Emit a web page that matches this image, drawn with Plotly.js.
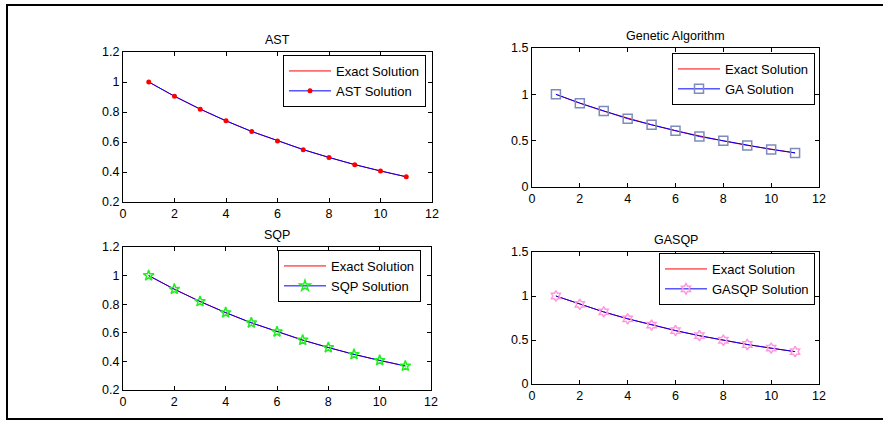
<!DOCTYPE html>
<html><head><meta charset="utf-8">
<script src="https://cdn.plot.ly/plotly-3.0.1.min.js"></script>
<style>html,body{margin:0;padding:0;background:#fff;}#chart{width:883px;height:421px;}</style>
</head><body><div id="chart"></div>
<script>
// ---- data ----
const xVals = [1, 2, 3, 4, 5, 6, 7, 8, 9, 10, 11];
const exactSolution = [1.0, 0.905, 0.819, 0.741, 0.670, 0.607, 0.549, 0.497, 0.449, 0.407, 0.368];
const astSolution   = [1.0, 0.905, 0.819, 0.741, 0.670, 0.607, 0.549, 0.497, 0.449, 0.407, 0.368];
const gaSolution    = [1.0, 0.905, 0.821, 0.737, 0.672, 0.607, 0.545, 0.499, 0.449, 0.406, 0.368];
const sqpSolution   = [1.0, 0.905, 0.819, 0.741, 0.670, 0.607, 0.549, 0.497, 0.449, 0.407, 0.368];
const gasqpSolution = [1.0, 0.905, 0.819, 0.741, 0.670, 0.607, 0.549, 0.497, 0.449, 0.407, 0.368];
const titles = ["AST", "Genetic Algorithm", "SQP", "GASQP"];
const solutionNames = ["AST Solution", "GA Solution", "SQP Solution", "GASQP Solution"];
const xTicks = [0, 2, 4, 6, 8, 10, 12];
const yTicksA = [0.2, 0.4, 0.6, 0.8, 1, 1.2];
const yTicksB = [0, 0.5, 1, 1.5];

const W = 883, H = 421;
const font = "Liberation Sans, Arial, sans-serif";

// panel pixel boxes [left, right, top, bottom]
const boxes = [[123, 432, 52, 202], [532, 819, 48, 187], [123, 431, 247, 390], [532, 819, 252, 384]];
const legendPos = [[426, 55], [815, 53], [421, 250], [815, 253]];
const yTicksList = [yTicksA, yTicksB, yTicksA, yTicksB];
const solutions = [astSolution, gaSolution, sqpSolution, gasqpSolution];
const markers = [
  {symbol: 'circle', size: 5, color: '#ff0000', line: {width: 0}},
  {symbol: 'square-open', size: 9, color: '#7d8cbc', line: {width: 1.5}},
  {symbol: 'star-open', size: 8, color: '#22ee22', line: {width: 1.5}},
  {symbol: 'hexagram-open', size: 8, color: '#ff99dd', line: {width: 1.5}}
];

const traces = [];
const layout = {
  width: W, height: H,
  margin: {l: 0, r: 0, t: 0, b: 0},
  paper_bgcolor: '#fff', plot_bgcolor: '#fff',
  font: {family: font, size: 12, color: '#000'},
  showlegend: true,
  annotations: [],
  shapes: [{type: 'rect', xref: 'paper', yref: 'paper', x0: 7 / W, x1: 890 / W, y0: 1 - 419 / H, y1: 1 - 5 / H,
            line: {color: '#000', width: 2}, layer: 'above'}]
};

for (let i = 0; i < 4; i++) {
  const n = i + 1;
  const xa = n === 1 ? 'x' : 'x' + n, ya = n === 1 ? 'y' : 'y' + n;
  const lg = n === 1 ? 'legend' : 'legend' + n;
  const [l, r, t, b] = boxes[i];
  traces.push({x: xVals, y: exactSolution, xaxis: xa, yaxis: ya, legend: lg, type: 'scatter', mode: 'lines',
               name: 'Exact Solution', line: {color: '#ff0000', width: 1}});
  traces.push({x: xVals, y: solutions[i], xaxis: xa, yaxis: ya, legend: lg, type: 'scatter', mode: 'lines+markers',
               name: solutionNames[i], line: {color: '#0000ff', width: 1}, marker: markers[i]});
  const yt = yTicksList[i];
  layout['xaxis' + (n === 1 ? '' : n)] = {
    domain: [l / W, r / W], anchor: ya, range: [0, 12], tickvals: xTicks, ticktext: xTicks.map(String),
    showline: true, mirror: 'ticks', linecolor: '#000', linewidth: 1, ticks: 'inside', ticklen: 4, tickcolor: '#000',
    showgrid: false, zeroline: false, tickfont: {size: 12.5, color: '#000'}, fixedrange: true
  };
  layout['yaxis' + (n === 1 ? '' : n)] = {
    domain: [1 - b / H, 1 - t / H], anchor: xa, range: [yt[0], yt[yt.length - 1]], tickvals: yt, ticktext: yt.map(String),
    showline: true, mirror: 'ticks', linecolor: '#000', linewidth: 1, ticks: 'inside', ticklen: 4, tickcolor: '#000',
    showgrid: false, zeroline: false, tickfont: {size: 12.5, color: '#000'}, fixedrange: true
  };
  layout[lg] = {
    x: legendPos[i][0] / W, y: 1 - legendPos[i][1] / H, xanchor: 'right', yanchor: 'top',
    xref: 'paper', yref: 'paper',
    bgcolor: '#fff', bordercolor: '#000', borderwidth: 1, font: {size: 13, color: '#000', family: font},
    tracegroupgap: 0, itemwidth: 42
  };
  layout.annotations.push({text: titles[i], xref: 'paper', yref: 'paper', x: (l + r) / 2 / W, y: 1 - (t - 3) / H,
    xanchor: 'center', yanchor: 'bottom', showarrow: false, font: {size: 12.5, color: '#000', family: font}});
}

Plotly.newPlot('chart', traces, layout, {staticPlot: true});
</script></body></html>
